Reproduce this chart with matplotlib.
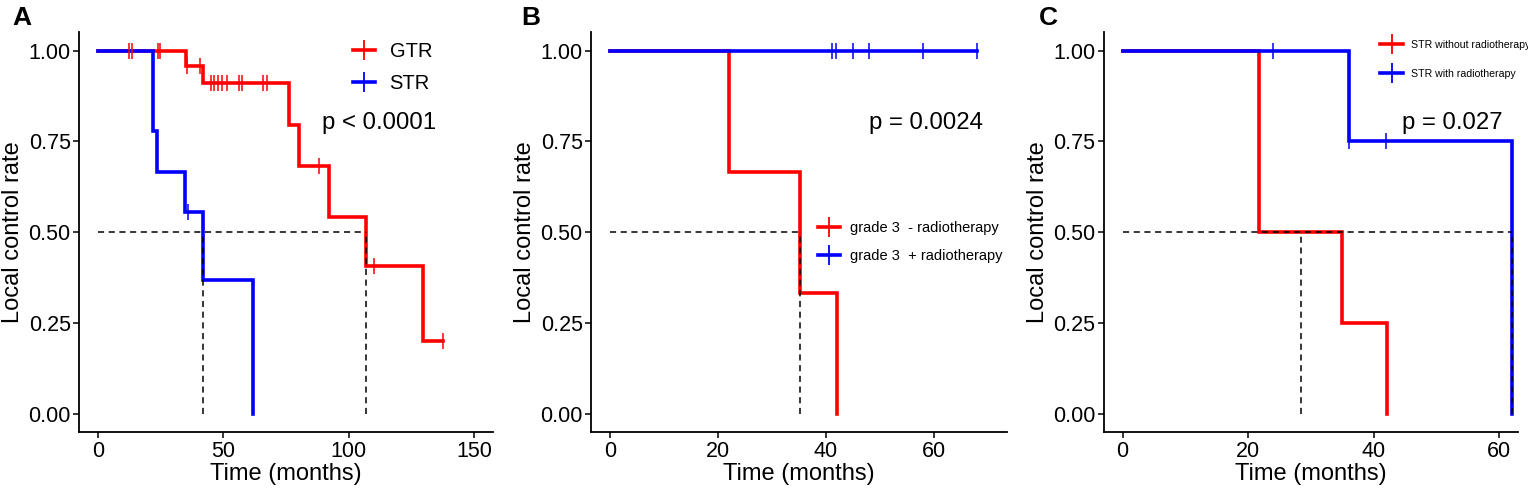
import numpy as np
import matplotlib.pyplot as plt
from matplotlib.lines import Line2D

plt.rcParams['font.family'] = ['Liberation Sans', 'DejaVu Sans']

RED = '#FF0000'
BLUE = '#0000FF'

# ---- panel A : GTR vs STR
a_gtr_t = [0, 35.3, 42, 76, 80.3, 92.2, 107, 129.6]
a_gtr_s = [1, 0.959, 0.91, 0.795, 0.683, 0.543, 0.408, 0.202]
a_gtr_end = 137.4
a_gtr_cens = [12.5, 13.7, 23.8, 24.8, 35.6, 40.8, 45, 46.2, 48, 49.6, 51.4,
              56.2, 57.5, 66, 67.5, 88, 110, 137.4]
a_str_t = [0, 22, 23.7, 34.9, 42, 62]
a_str_s = [1, 0.778, 0.667, 0.556, 0.370, 0]
a_str_end = 62
a_str_cens = [36.1]
a_medians = [42, 107]

# ---- panel B : grade 3 -/+ radiotherapy
b_neg_t = [0, 22.1, 35.3, 42.1]
b_neg_s = [1, 0.667, 0.333, 0]
b_neg_end = 42.1
b_neg_cens = []
b_pos_t = [0]
b_pos_s = [1]
b_pos_end = 68
b_pos_cens = [41.2, 41.8, 45, 48, 58, 68]
b_medians = [35.3]

# ---- panel C : STR without / with radiotherapy
c_neg_t = [0, 21.8, 34.9, 42.1]
c_neg_s = [1, 0.5, 0.25, 0]
c_neg_end = 42.1
c_neg_cens = []
c_pos_t = [0, 36, 62]
c_pos_s = [1, 0.75, 0]
c_pos_end = 62
c_pos_cens = [23.9, 36, 42]
c_medians = [28.4, 62]


def km(ax, t, s, end, color):
    tt = list(t) + [end]
    ss = list(s) + [s[-1]]
    ax.step(tt, ss, where='post', color=color, lw=2.6, solid_joinstyle='miter', zorder=3)


def cens_pts(ax, t, s, cens, color):
    if len(cens) == 0:
        return
    idx = np.searchsorted(t, cens, side='right') - 1
    ys = np.array(s)[idx]
    ax.plot(cens, ys, ls='none', marker='|', ms=12, mew=1.1, color=color, zorder=4)


def medians(ax, meds):
    ax.plot([0, max(meds)], [0.5, 0.5], ls=(0, (4, 3)), color='black', lw=1.1, zorder=5)
    for m in meds:
        ax.plot([m, m], [0, 0.5], ls=(0, (4, 3)), color='black', lw=1.1, zorder=5)


def style(ax, xlim, xticks):
    ax.set_xlim(xlim)
    ax.set_ylim(-0.05, 1.05)
    ax.set_xticks(xticks)
    ax.set_yticks([0, 0.25, 0.5, 0.75, 1.0])
    ax.set_yticklabels(['0.00', '0.25', '0.50', '0.75', '1.00'])
    for sp in ['top', 'right']:
        ax.spines[sp].set_visible(False)
    for sp in ['left', 'bottom']:
        ax.spines[sp].set_linewidth(1.3)
    ax.tick_params(labelsize=15.5, width=1.1, length=4, pad=2, colors='black')
    ax.set_xlabel('Time (months)', fontsize=17, labelpad=1)
    ax.set_ylabel('Local control rate', fontsize=17, labelpad=3)


def leg(ax, labels, fs, anchor, hl, pad, spacing):
    hs = [Line2D([], [], color=RED, lw=2.6, marker='|', ms=14, mew=1.3),
          Line2D([], [], color=BLUE, lw=2.6, marker='|', ms=14, mew=1.3)]
    ax.legend(hs, labels, loc='center left', bbox_to_anchor=anchor, frameon=False,
              fontsize=fs, handlelength=hl, handletextpad=pad,
              labelspacing=spacing, numpoints=1, borderaxespad=0)


fig = plt.figure(figsize=(15.28, 4.9), dpi=100)
axA = fig.add_axes([0.0517, 0.1178, 0.271, 0.816])
axB = fig.add_axes([0.3868, 0.1178, 0.272, 0.816])
axC = fig.add_axes([0.7223, 0.1178, 0.2713, 0.816])

# A
km(axA, a_gtr_t, a_gtr_s, a_gtr_end, RED)
km(axA, a_str_t, a_str_s, a_str_end, BLUE)
cens_pts(axA, a_gtr_t, a_gtr_s, a_gtr_cens, RED)
cens_pts(axA, a_str_t, a_str_s, a_str_cens, BLUE)
medians(axA, a_medians)
style(axA, (-7.5, 157.5), [0, 50, 100, 150])
axA.text(112, 0.80, 'p < 0.0001', fontsize=17.3, ha='center', va='center')
leg(axA, ['GTR', 'STR'], 14.5, (0.643, 0.912), 1.1, 0.7, 0.64)

# B
km(axB, b_neg_t, b_neg_s, b_neg_end, RED)
km(axB, b_pos_t, b_pos_s, b_pos_end, BLUE)
cens_pts(axB, b_pos_t, b_pos_s, b_pos_cens, BLUE)
medians(axB, b_medians)
style(axB, (-3.5, 73.5), [0, 20, 40, 60])
axB.text(58.5, 0.80, 'p = 0.0024', fontsize=17.3, ha='center', va='center')
leg(axB, ['grade 3  - radiotherapy', 'grade 3  + radiotherapy'], 10.5,
    (0.533, 0.475), 1.5, 0.68, 0.96)

# C
km(axC, c_neg_t, c_neg_s, c_neg_end, RED)
km(axC, c_pos_t, c_pos_s, c_pos_end, BLUE)
cens_pts(axC, c_pos_t, c_pos_s, c_pos_cens, BLUE)
medians(axC, c_medians)
style(axC, (-3, 63), [0, 20, 40, 60])
axC.text(52.5, 0.80, 'p = 0.027', fontsize=17.3, ha='center', va='center')
leg(axC, ['STR without radiotherapy', 'STR with radiotherapy'], 7.6,
    (0.657, 0.9325), 2.2, 0.75, 1.79)

for x, lab in [(0.008, 'A'), (0.341, 'B'), (0.680, 'C')]:
    fig.text(x, 0.988, lab, fontsize=19, fontweight='bold', va='top', ha='left')

plt.savefig('out.png', dpi=100)
